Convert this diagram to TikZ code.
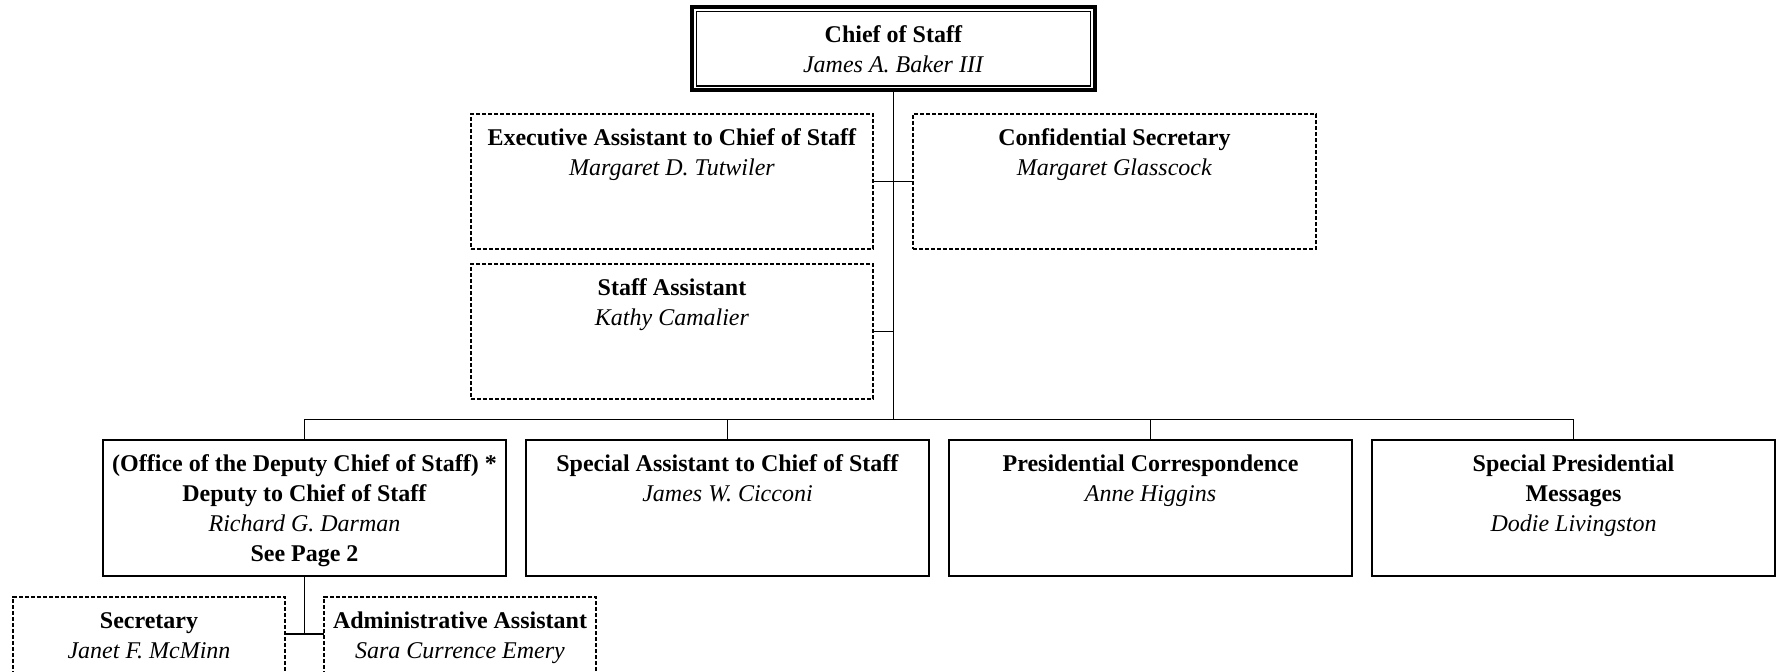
\documentclass[tikz,border=0pt]{standalone}
\usepackage{fontspec}
\setmainfont{Liberation Serif}
\begin{document}
\begin{tikzpicture}[x=0.5pt,y=-0.5pt,
  solidbox/.style={draw=black,line width=0.8pt,rectangle,inner sep=0pt,outer sep=0pt,minimum height=68pt},
  dashbox/.style={draw=black,line width=0.6pt,dash pattern=on 2.2pt off 0.8pt,rectangle,inner sep=0pt,outer sep=0pt,minimum height=67.5pt},
  txt/.style={anchor=north,inner sep=0pt,outer sep=0pt,align=center,font=\fontsize{12}{15}\selectfont},
  conn/.style={draw=black,line width=0.9pt}]
\useasboundingbox (0,0) rectangle (1783,672);
\clip (0,0) rectangle (1783,672);
% Chief of staff
\node[rectangle,draw=black,line width=2pt,inner sep=0pt,outer sep=0pt,minimum width=201.5pt,minimum height=41.75pt] (chief) at (893.5,48.75) {};
\draw[line width=0.8pt] ([shift={(4.5,4.5)}]chief.north west) rectangle ([shift={(-4.5,-4.5)}]chief.south east);
\node[txt] (chieft) at ([yshift=-8pt]chief.north) {\rule{0pt}{10pt}\textbf{Chief of Staff}\\\textit{James A. Baker III}};
% second level
\node[dashbox,minimum width=201pt] (exec) at (672,181.5) {};
\node[dashbox,minimum width=201.5pt] (conf) at (1114.5,181.5) {};
\node[dashbox,minimum width=201pt] (staff) at (672,331.5) {};
\node[txt] (exect) at ([yshift=-5.75pt]exec.north) {\rule{0pt}{10pt}\textbf{Executive Assistant to Chief of Staff}\\\textit{Margaret D. Tutwiler}};
\node[txt] (conft) at ([yshift=-5.75pt]conf.north) {\rule{0pt}{10pt}\textbf{Confidential Secretary}\\\textit{Margaret Glasscock}};
\node[txt] (stafft) at ([yshift=-5.75pt]staff.north) {\rule{0pt}{10pt}\textbf{Staff Assistant}\\\textit{Kathy Camalier}};
% third level
\node[solidbox,minimum width=201.5pt] (b1) at (304.5,508) {};
\node[solidbox,minimum width=201.5pt] (b2) at (727.5,508) {};
\node[solidbox,minimum width=201.5pt] (b3) at (1150.5,508) {};
\node[solidbox,minimum width=201.5pt] (b4) at (1573.5,508) {};
\node[txt] (b1t) at ([yshift=-6pt]b1.north) {\rule{0pt}{10pt}\textbf{(Office of the Deputy Chief of Staff) *}\\\textbf{Deputy to Chief of Staff}\\\textit{Richard G. Darman}\\\textbf{See Page 2}};
\node[txt] (b2t) at ([yshift=-6pt]b2.north) {\rule{0pt}{10pt}\textbf{Special Assistant to Chief of Staff}\\\textit{James W. Cicconi}};
\node[txt] (b3t) at ([yshift=-6pt]b3.north) {\rule{0pt}{10pt}\textbf{Presidential Correspondence}\\\textit{Anne Higgins}};
\node[txt] (b4t) at ([yshift=-6pt]b4.north) {\rule{0pt}{10pt}\textbf{Special Presidential}\\\textbf{Messages}\\\textit{Dodie Livingston}};
% fourth level
\node[dashbox,minimum width=136pt,minimum height=45pt] (sec) at (149,642) {};
\node[dashbox,minimum width=136pt,minimum height=45pt] (admin) at (460,642) {};
\node[txt] (sect) at ([yshift=-6pt]sec.north) {\rule{0pt}{10pt}\textbf{Secretary}\\\textit{Janet F. McMinn}};
\node[txt] (admint) at ([yshift=-6pt]admin.north) {\rule{0pt}{10pt}\textbf{Administrative Assistant}\\\textit{Sara Currence Emery}};
% connectors
\coordinate (bus) at (893.5,419.5);
\coordinate (j) at (304.5,634);
\draw[conn] (chief.south) -- (bus);
\draw[conn] (exec.east) -- (conf.west);
\draw[conn] (staff.east) -- (staff.east -| bus);
\draw[conn] (b1.north |- bus) -- (b4.north |- bus);
\draw[conn] (b1.north |- bus) -- (b1.north);
\draw[conn] (b2.north |- bus) -- (b2.north);
\draw[conn] (b3.north |- bus) -- (b3.north);
\draw[conn] (b4.north |- bus) -- (b4.north);
\draw[conn] (b1.south) -- (j);
\draw[conn] (sec.east |- j) -- (admin.west |- j);
\end{tikzpicture}
\end{document}
